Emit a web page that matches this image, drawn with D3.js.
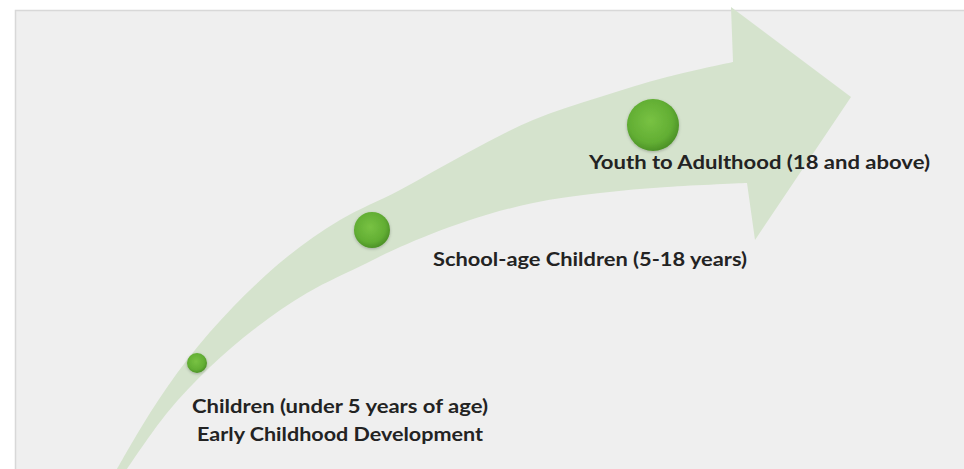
<!DOCTYPE html>
<html>
<head>
<meta charset="utf-8">
<script src="https://cdn.jsdelivr.net/npm/d3@7"></script>
<style>
  html, body { margin: 0; padding: 0; background: #fff; }
  svg { display: block; }
</style>
</head>
<body>
<svg id="chart"></svg>
<script>
// stages along the arrow (data units: panel grid 0..949 across, 0..459 up)
var stageNames = ["Children (under 5 years of age)", "School-age Children (5-18 years)", "Youth to Adulthood (18 and above)"];
var stageSub   = ["Early Childhood Development", "", ""];
var stageStep  = [182, 357, 638];
var stageLevel = [106, 239, 344];
var stageSize  = [1.0, 1.8, 2.6];

// arrow outline, same units
var arrowOuter = [[102,0],[135,56],[172,109],[218,162],[272,212],[325,249],[385,279],[452,316],[518,349],[585,372],[652,392],[718,407]];
var arrowHead  = [[716,462],[836,372],[740,229]];
var arrowInner = [[732,286],[652,282],[585,276],[518,266],[452,248],[385,222],[352,206],[292,176],[242,142],[195,102],[152,56],[112,0]];

var w = 964, h = 469;
var padLeft = 15, padTop = 10;

var svg = d3.select("#chart").attr("width", w).attr("height", h);

var defs = svg.append("defs");
var grad = defs.append("radialGradient").attr("id", "dotGrad")
    .attr("cx", "45%").attr("cy", "42%").attr("r", "60%");
grad.append("stop").attr("offset", "0%").attr("stop-color", "#78c243");
grad.append("stop").attr("offset", "70%").attr("stop-color", "#62ae33");
grad.append("stop").attr("offset", "100%").attr("stop-color", "#4a8f26");
var shadow = defs.append("filter").attr("id", "dotShadow")
    .attr("x", "-50%").attr("y", "-50%").attr("width", "200%").attr("height", "200%");
shadow.append("feDropShadow").attr("dx", 0).attr("dy", 1).attr("stdDeviation", 1.5)
    .attr("flood-color", "#000").attr("flood-opacity", 0.25);

//scales
var xScale = d3.scaleLinear().domain([0, 949]).range([padLeft, w]);
var yScale = d3.scaleLinear().domain([0, 459]).range([h, padTop]);
var rScale = d3.scaleLinear().domain([0, 1]).range([0, 10]);

// panel
svg.append("rect")
    .attr("x", padLeft + 0.5).attr("y", padTop + 0.5)
    .attr("width", w - padLeft + 2).attr("height", h - padTop + 2)
    .style("fill", "#efefef")
    .style("stroke", "#d8d8d8")
    .style("stroke-width", 1.5);

// arrow
var curve = d3.line()
    .x(function(d) { return xScale(d[0]); })
    .y(function(d) { return yScale(d[1]); })
    .curve(d3.curveCatmullRom.alpha(0.5));

var pathD = curve(arrowOuter)
    + arrowHead.map(function(p) { return "L" + xScale(p[0]) + "," + yScale(p[1]); }).join("")
    + curve(arrowInner).replace(/^M/, "L") + "Z";

svg.append("path")
    .attr("d", pathD)
    .style("fill", "#d5e3cd");

// dots
svg.selectAll("circle.stage")
    .data(stageNames)
    .enter()
    .append("circle")
    .attr("class", "stage")
    .attr("cx", function(d, i) { return xScale(stageStep[i]); })
    .attr("cy", function(d, i) { return yScale(stageLevel[i]); })
    .attr("r", function(d, i) { return rScale(stageSize[i]); })
    .style("fill", "url(#dotGrad)")
    .attr("filter", "url(#dotShadow)");

// labels: offset from each dot, then squeezed to the width seen in the original
var labelOffset = [[-5, 50], [61, 36], [-64, 44]];
var labelWidth  = [296, 314, 341];
var subOffset   = [[0, 78], null, null];
var subWidth    = [286, 0, 0];

function addLabel(txt, x, y, width) {
    var t = svg.append("text")
        .attr("x", x).attr("y", y)
        .style("font-family", "Lato, 'Open Sans', sans-serif")
        .style("font-weight", "bold")
        .style("font-size", "19px")
        .style("fill", "#232323")
        .text(txt);
    t.attr("textLength", width).attr("lengthAdjust", "spacingAndGlyphs");
}

stageNames.forEach(function(name, i) {
    var cx = xScale(stageStep[i]), cy = yScale(stageLevel[i]);
    addLabel(name, cx + labelOffset[i][0], cy + labelOffset[i][1], labelWidth[i]);
    if (stageSub[i]) {
        addLabel(stageSub[i], cx + subOffset[i][0], cy + subOffset[i][1], subWidth[i]);
    }
});
</script>
</body>
</html>
